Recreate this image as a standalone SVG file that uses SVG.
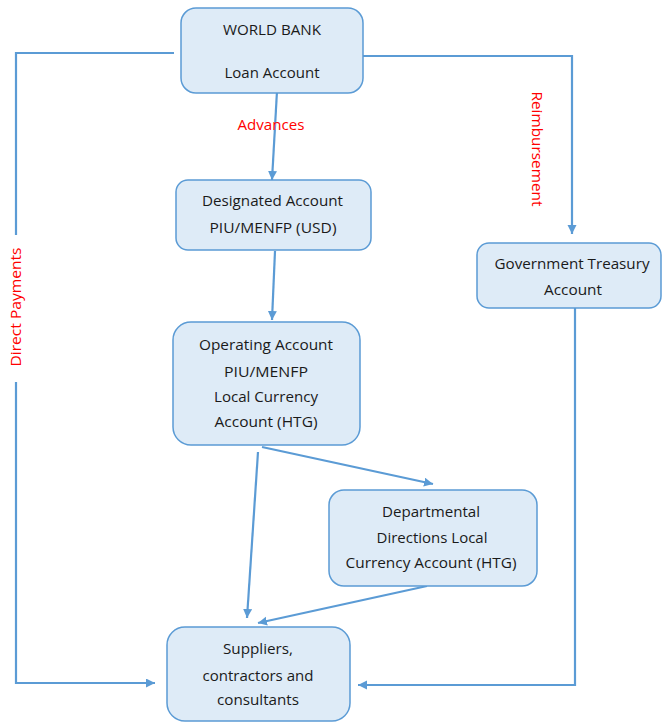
<svg xmlns="http://www.w3.org/2000/svg" width="662" height="723" viewBox="0 0 662 723">
<style>
.box{fill:#DEEBF7;stroke:#5B9BD5;stroke-width:1.5}
.t{font-family:"Open Sans","Liberation Sans",sans-serif;font-size:14px;fill:#1a1a1a;text-anchor:middle}
.r{font-family:"Open Sans","Liberation Sans",sans-serif;font-size:14px;fill:#FF0000;text-anchor:middle}
.c{fill:none;stroke:#5B9BD5;stroke-width:2.2}
</style>
<defs>
<marker id="ah" markerUnits="userSpaceOnUse" markerWidth="10" markerHeight="10" refX="9" refY="4.5" orient="auto">
<path d="M0,0 L9,4.5 L0,9 z" fill="#5B9BD5"/>
</marker>
</defs>
<rect width="662" height="723" fill="#FFFFFF"/>
<g id="connectors">
<polyline class="c" points="174,53 16,53 16,235"/>
<polyline class="c" points="16,382 16,683 155,683" marker-end="url(#ah)"/>
<polyline class="c" points="363,56 572,56 572,234" marker-end="url(#ah)"/>
<line class="c" x1="277" y1="91" x2="272" y2="180" marker-end="url(#ah)"/>
<line class="c" x1="275" y1="251" x2="272" y2="320" marker-end="url(#ah)"/>
<line class="c" x1="262" y1="447" x2="433" y2="484" marker-end="url(#ah)"/>
<line class="c" x1="258" y1="452" x2="247" y2="618" marker-end="url(#ah)"/>
<line class="c" x1="427" y1="586" x2="258" y2="623" marker-end="url(#ah)"/>
<polyline class="c" points="575,307 575,685 358,685" marker-end="url(#ah)"/>
<text class="r" x="271" y="130" textLength="67" lengthAdjust="spacingAndGlyphs">Advances</text>
<text class="r" transform="translate(537,149) rotate(90)" x="0" y="5" textLength="115" lengthAdjust="spacingAndGlyphs">Reimbursement</text>
<text class="r" transform="translate(16,307) rotate(-90)" x="0" y="5" textLength="119" lengthAdjust="spacingAndGlyphs">Direct Payments</text>
</g>
<g id="world-bank">
<rect class="box" x="181" y="8" width="182" height="85" rx="15"/>
<text class="t" x="272" y="35" textLength="98" lengthAdjust="spacingAndGlyphs">WORLD BANK</text>
<text class="t" x="272" y="78" textLength="95" lengthAdjust="spacingAndGlyphs">Loan Account</text>
</g>
<g id="designated-account">
<rect class="box" x="176" y="180" width="195" height="70" rx="12"/>
<text class="t" x="272.5" y="206" textLength="141" lengthAdjust="spacingAndGlyphs">Designated Account</text>
<text class="t" x="273" y="233" textLength="127" lengthAdjust="spacingAndGlyphs">PIU/MENFP (USD)</text>
</g>
<g id="operating-account">
<rect class="box" x="173" y="322" width="187" height="123" rx="18"/>
<text class="t" x="266" y="350" textLength="134" lengthAdjust="spacingAndGlyphs">Operating Account</text>
<text class="t" x="266" y="377" textLength="84" lengthAdjust="spacingAndGlyphs">PIU/MENFP</text>
<text class="t" x="266" y="402" textLength="104" lengthAdjust="spacingAndGlyphs">Local Currency</text>
<text class="t" x="266" y="427" textLength="103" lengthAdjust="spacingAndGlyphs">Account (HTG)</text>
</g>
<g id="departmental-directions">
<rect class="box" x="329" y="490" width="208" height="96" rx="15"/>
<text class="t" x="431" y="517" textLength="98" lengthAdjust="spacingAndGlyphs">Departmental</text>
<text class="t" x="432" y="543" textLength="111" lengthAdjust="spacingAndGlyphs">Directions Local</text>
<text class="t" x="431" y="568" textLength="171" lengthAdjust="spacingAndGlyphs">Currency Account (HTG)</text>
</g>
<g id="government-treasury">
<rect class="box" x="477" y="243" width="184" height="65" rx="12"/>
<text class="t" x="572" y="269" textLength="155" lengthAdjust="spacingAndGlyphs">Government Treasury</text>
<text class="t" x="573" y="295" textLength="58" lengthAdjust="spacingAndGlyphs">Account</text>
</g>
<g id="suppliers">
<rect class="box" x="167" y="627" width="183" height="94" rx="18"/>
<text class="t" x="258" y="654" textLength="70" lengthAdjust="spacingAndGlyphs">Suppliers,</text>
<text class="t" x="258" y="681" textLength="111" lengthAdjust="spacingAndGlyphs">contractors and</text>
<text class="t" x="258" y="705" textLength="82" lengthAdjust="spacingAndGlyphs">consultants</text>
</g>
</svg>
